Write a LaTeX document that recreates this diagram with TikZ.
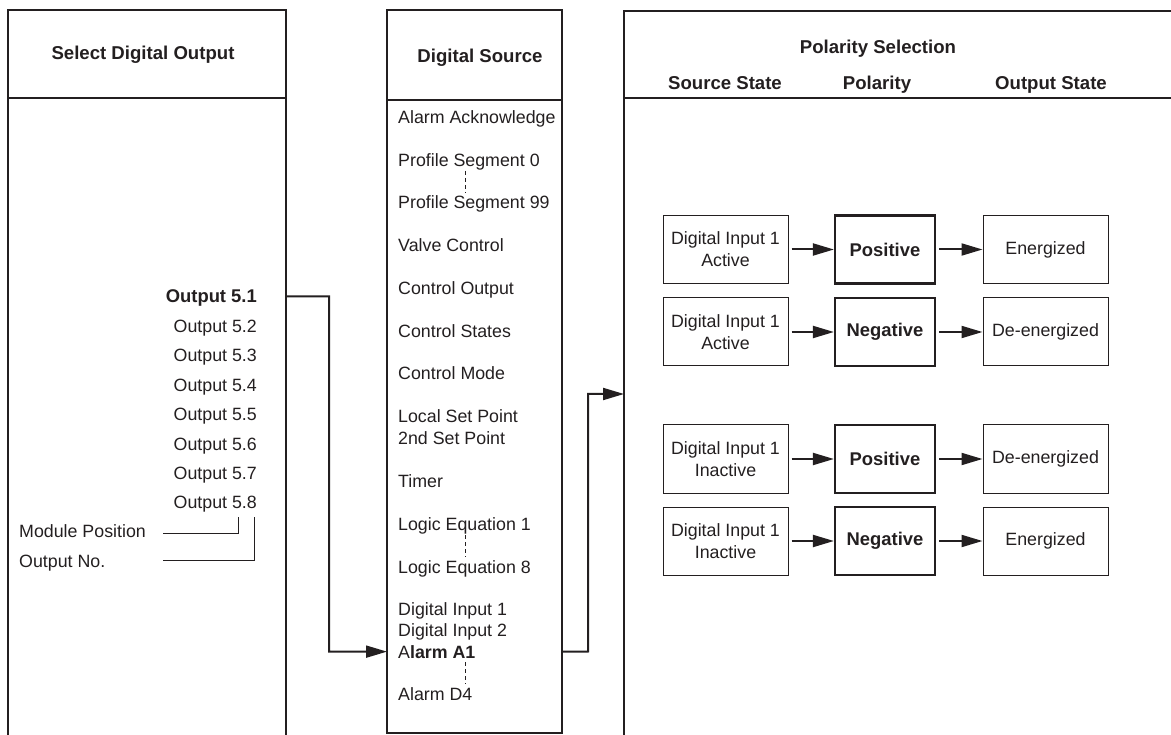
\documentclass[tikz,border=0pt]{standalone}
\usepackage{fontspec}
\setmainfont{Liberation Sans}
\usetikzlibrary{arrows.meta}
\definecolor{ink}{HTML}{231F20}
\begin{document}
\begin{tikzpicture}[x=1pt,y=-1pt,
  txt/.style={inner sep=0pt, text=ink, font=\fontsize{17.8}{22}\selectfont},
  lt/.style={txt, anchor=base west},
  rt/.style={txt, anchor=base east},
  hd/.style={txt, anchor=base, font=\fontsize{18.6}{22}\selectfont\bfseries},
  panel/.style={line width=2.2pt, draw=ink},
  divider/.style={line width=1.2pt, draw=ink},
  conn/.style={line width=2pt, draw=ink, -{Triangle[length=21pt,width=12pt]}},
  arr/.style={conn, shorten <=3pt},
  callout/.style={line width=1pt, draw=ink},
  dsh/.style={line width=0.9pt, draw=ink, dash pattern=on 4pt off 3pt},
  sbox/.style={txt, draw=ink, line width=1pt, minimum width=125pt, minimum height=68pt, align=center},
  pbox/.style={txt, draw=ink, line width=2.2pt, minimum width=100pt, minimum height=68pt, align=center, font=\fontsize{18.4}{22}\selectfont\bfseries},
]
\useasboundingbox (0,0) rectangle (1171,735);

% panels
\draw[panel] (8,735) -- (8,10) -- (286,10) -- (286,735);
\draw[divider] (8,98) -- (286,98);
\draw[panel] (387,10) rectangle (562,733);
\draw[divider] (387,100) -- (562,100);
\draw[panel] (1171,11) -- (624,11) -- (624,735);
\draw[divider] (624,98) -- (1171,98);

% coordinates for panel edges
\coordinate (lpR) at (287,0);
\coordinate (mpL) at (387,0);
\coordinate (mpR) at (562,0);
\coordinate (rpIn) at (624,394);

% left panel
\node[hd] (hL) at (143,60) {Select Digital Output};
\node[rt, font=\fontsize{18.4}{22}\selectfont\bfseries] (o1) at (257,303) {Output 5.1};
\node[rt] (o2) at (257,332.4) {Output 5.2};
\node[rt] (o3) at (257,361.8) {Output 5.3};
\node[rt] (o4) at (257,391.2) {Output 5.4};
\node[rt] (o5) at (257,420.6) {Output 5.5};
\node[rt] (o6) at (257,450) {Output 5.6};
\node[rt] (o7) at (257,479.4) {Output 5.7};
\node[rt] (o8) at (257,508.8) {Output 5.8};
\node[lt] (mp) at (19,537) {Module Position};
\node[lt] (on) at (19,567) {Output No.};
\coordinate (c5) at (238,517);
\coordinate (c8) at (254,517);
\coordinate (mpS) at (163,533);
\coordinate (onS) at (163,560);
\draw[callout] (mpS) -| (c5);
\draw[callout] (onS) -| (c8);

% middle panel
\node[hd] (hM) at (480,63) {Digital Source};
\node[lt] (m1) at (398,124) {Alarm Acknowledge};
\node[lt] (m2) at (398,167) {Profile Segment 0};
\node[lt] (m3) at (398,209) {Profile Segment 99};
\node[lt] (m4) at (398,252) {Valve Control};
\node[lt] (m5) at (398,295) {Control Output};
\node[lt] (m6) at (398,338) {Control States};
\node[lt] (m7) at (398,380) {Control Mode};
\node[lt] (m8) at (398,423) {Local Set Point};
\node[lt] (m9) at (398,445) {2nd Set Point};
\node[lt] (m10) at (398,487) {Timer};
\node[lt] (m11) at (398,530) {Logic Equation 1};
\node[lt] (m12) at (398,573) {Logic Equation 8};
\node[lt] (m13) at (398,615) {Digital Input 1};
\node[lt] (m14) at (398,636) {Digital Input 2};
\node[lt] (aA1) at (398,658) {A\textbf{larm A1}};
\node[lt] (m16) at (398,700) {Alarm D4};
\draw[dsh] (465,171) -- (465,193);
\draw[dsh] (465,535) -- (465,557);
\draw[dsh] (465,662) -- (465,684);

% connectors between panels
\draw[conn] (o1.east -| lpR) ++(0,-2) -- (329,296.5) |- (aA1.west -| mpL);
\draw[conn] (aA1.east -| mpR) -- (588,651.5) |- (rpIn);

% right panel headers
\node[hd] (hR) at (878,54) {Polarity Selection};
\node[hd] (hS) at (725,90) {Source State};
\node[hd] (hP) at (877,90) {Polarity};
\node[hd] (hO) at (1051,90) {Output State};

% right panel rows
\node[sbox] (s1) at (725.5,249.5) {Digital Input 1\\Active};
\node[pbox] (p1) at (885,249.5) {Positive};
\node[sbox] (t1) at (1045.5,249.5) {Energized};
\node[sbox] (s2) at (725.5,332) {Digital Input 1\\Active};
\node[pbox] (p2) at (885,332) {Negative};
\node[sbox] (t2) at (1045.5,332) {De-energized};
\node[sbox] (s3) at (725.5,459) {Digital Input 1\\Inactive};
\node[pbox] (p3) at (885,459) {Positive};
\node[sbox] (t3) at (1045.5,459) {De-energized};
\node[sbox] (s4) at (725.5,541) {Digital Input 1\\Inactive};
\node[pbox] (p4) at (885,541) {Negative};
\node[sbox] (t4) at (1045.5,541) {Energized};

\foreach \i in {1,2,3,4}{
  \draw[arr] (s\i) -- (p\i);
  \draw[arr] (p\i) -- (t\i);
}
\end{tikzpicture}
\end{document}
